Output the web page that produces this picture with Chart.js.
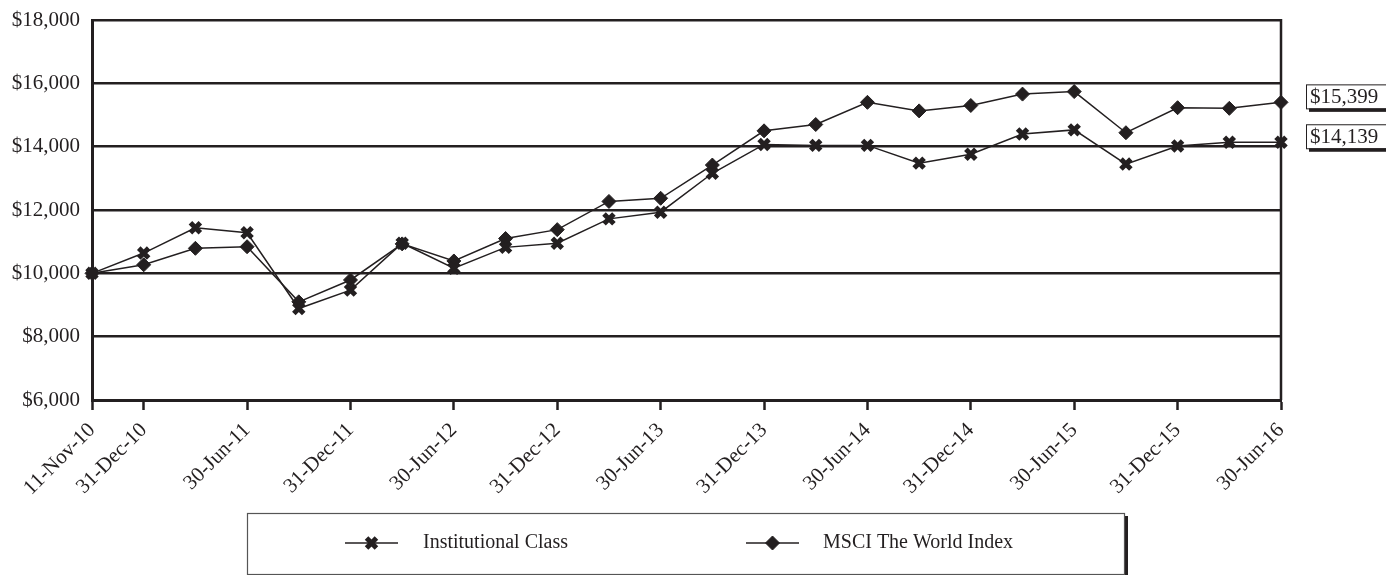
<!DOCTYPE html>
<html>
<head>
<meta charset="utf-8">
<script src="https://cdn.jsdelivr.net/npm/chart.js@4/dist/chart.umd.min.js"></script>
<style>
  html, body { margin: 0; padding: 0; background: #fff; }
  #wrap { position: relative; width: 1386px; height: 575px; overflow: hidden; }
</style>
</head>
<body>
<div id="wrap"><canvas id="growth"></canvas></div>
<script>
// Value of a $10,000 investment, quarter-end observations
const periods = [
  '11-Nov-10', '31-Dec-10', '31-Mar-11', '30-Jun-11', '30-Sep-11', '31-Dec-11',
  '31-Mar-12', '30-Jun-12', '30-Sep-12', '31-Dec-12', '31-Mar-13', '30-Jun-13',
  '30-Sep-13', '31-Dec-13', '31-Mar-14', '30-Jun-14', '30-Sep-14', '31-Dec-14',
  '31-Mar-15', '30-Jun-15', '30-Sep-15', '31-Dec-15', '31-Mar-16', '30-Jun-16'
];

const institutionalClass = [
  10000, 10640, 11440, 11280, 8890, 9470,
  10950, 10160, 10820, 10950, 11720, 11930,
  13160, 14070, 14040, 14040, 13480, 13760,
  14400, 14530, 13450, 14020, 14140, 14139
];

const msciWorld = [
  10000, 10270, 10790, 10840, 9100, 9790,
  10930, 10390, 11100, 11380, 12270, 12370,
  13420, 14500, 14700, 15400, 15130, 15300,
  15660, 15740, 14440, 15230, 15210, 15399
];

const seriesNames = ['Institutional Class', 'MSCI The World Index'];
const yTicks = [6000, 8000, 10000, 12000, 14000, 16000, 18000];

const INK = '#231f20';
const SERIF = '"Liberation Serif", "Times New Roman", serif';
const money = v => '$' + Number(v).toLocaleString('en-US');

// Framed box holding the final value of each series, right of the plot
const endValueBoxes = {
  id: 'endValueBoxes',
  afterDraw(chart) {
    const { ctx, scales: { y }, chartArea } = chart;
    ctx.save();
    ctx.font = '21px ' + SERIF;
    ctx.textBaseline = 'middle';
    chart.data.datasets.forEach(ds => {
      const v = ds.data[ds.data.length - 1];
      const cy = y.getPixelForValue(v) - 6;
      const left = chartArea.right + 25, w = 90, h = 24;
      const top = cy - h / 2;
      ctx.fillStyle = '#fff';
      ctx.fillRect(left, top, w, h);
      ctx.fillStyle = INK;
      ctx.fillRect(left + 3, top + h, w, 3.5);
      ctx.strokeStyle = INK;
      ctx.lineWidth = 1;
      ctx.strokeRect(left + 0.5, top + 0.5, w, h);
      ctx.fillText(money(v), left + 4, cy + 1);
    });
    ctx.restore();
  }
};

// Right-hand frame line of the plot area
const plotFrame = {
  id: 'plotFrame',
  afterDatasetsDraw(chart) {
    const { ctx, chartArea } = chart;
    ctx.save();
    ctx.strokeStyle = INK;
    ctx.lineWidth = 2.5;
    ctx.beginPath();
    ctx.moveTo(chartArea.right, chartArea.top - 1);
    ctx.lineTo(chartArea.right, chartArea.bottom);
    ctx.stroke();
    ctx.restore();
  }
};

// Boxed legend below the axis labels
const boxedLegend = {
  id: 'boxedLegend',
  afterDraw(chart) {
    const { ctx } = chart;
    const bx = 247, by = 513, bw = 877, bh = 61;
    ctx.save();
    ctx.fillStyle = INK;
    ctx.fillRect(bx + bw, by + 3, 4, bh + 2);
    ctx.fillStyle = '#fff';
    ctx.fillRect(bx, by, bw, bh);
    ctx.strokeStyle = '#555';
    ctx.lineWidth = 1.2;
    ctx.strokeRect(bx + 0.5, by + 0.5, bw, bh);
    const items = [
      { x: 345, textX: 423 },
      { x: 746, textX: 823 }
    ];
    const cy = 543;
    chart.data.datasets.forEach((ds, i) => {
      const it = items[i];
      ctx.strokeStyle = INK;
      ctx.lineWidth = 1.5;
      ctx.beginPath();
      ctx.moveTo(it.x, cy);
      ctx.lineTo(it.x + 53, cy);
      ctx.stroke();
      ctx.lineWidth = ds.pointBorderWidth;
      ctx.fillStyle = INK;
      Chart.helpers.drawPoint(ctx, {
        pointStyle: ds.pointStyle,
        radius: ds.pointRadius,
        borderWidth: ds.pointBorderWidth,
        rotation: 0
      }, it.x + 26.5, cy);
      ctx.fillStyle = INK;
      ctx.font = '20px ' + SERIF;
      ctx.textBaseline = 'middle';
      ctx.fillText(ds.label, it.textX, cy);
    });
    ctx.restore();
  }
};

new Chart(document.getElementById('growth'), {
  type: 'line',
  data: {
    labels: periods,
    datasets: [
      {
        label: seriesNames[0],
        data: institutionalClass,
        borderColor: INK,
        backgroundColor: INK,
        borderWidth: 1.5,
        pointStyle: 'crossRot',
        pointRadius: 7,
        pointBorderWidth: 5,
        pointBorderColor: INK,
        pointBackgroundColor: INK,
        tension: 0,
        clip: false
      },
      {
        label: seriesNames[1],
        data: msciWorld,
        borderColor: INK,
        backgroundColor: INK,
        borderWidth: 1.5,
        pointStyle: 'rectRot',
        pointRadius: 7,
        pointBorderWidth: 1,
        pointBorderColor: INK,
        pointBackgroundColor: INK,
        tension: 0,
        clip: false
      }
    ]
  },
  options: {
    responsive: true,
    maintainAspectRatio: false,
    animation: false,
    layout: { padding: { top: 20, right: 105, left: 0, bottom: 0 } },
    plugins: {
      legend: { display: false },
      tooltip: { enabled: false }
    },
    scales: {
      x: {
        type: 'category',
        offset: false,
        afterBuildTicks(scale) {
          scale.ticks = scale.ticks.filter(t => t.value === 0 || t.value % 2 === 1);
        },
        afterFit(scale) { scale.height = 175; },
        grid: {
          drawOnChartArea: false,
          drawTicks: true,
          tickLength: 10,
          tickWidth: 2.5,
          tickColor: INK
        },
        border: { display: true, color: INK, width: 3 },
        ticks: {
          autoSkip: false,
          maxRotation: 45,
          minRotation: 45,
          padding: 8,
          color: INK,
          font: { family: SERIF, size: 21 }
        }
      },
      y: {
        min: 6000,
        max: 18000,
        afterBuildTicks(scale) {
          scale.ticks = yTicks.map(v => ({ value: v }));
        },
        afterFit(scale) {
          scale.width = 92;
          scale.paddingTop = 0;
        },
        grid: {
          color: INK,
          lineWidth: 2.5,
          drawTicks: false
        },
        border: { display: true, color: INK, width: 3 },
        ticks: {
          padding: 12,
          color: INK,
          font: { family: SERIF, size: 21, lineHeight: 1 },
          callback: v => money(v)
        }
      }
    }
  },
  plugins: [plotFrame, endValueBoxes, boxedLegend]
});
</script>
</body>
</html>
